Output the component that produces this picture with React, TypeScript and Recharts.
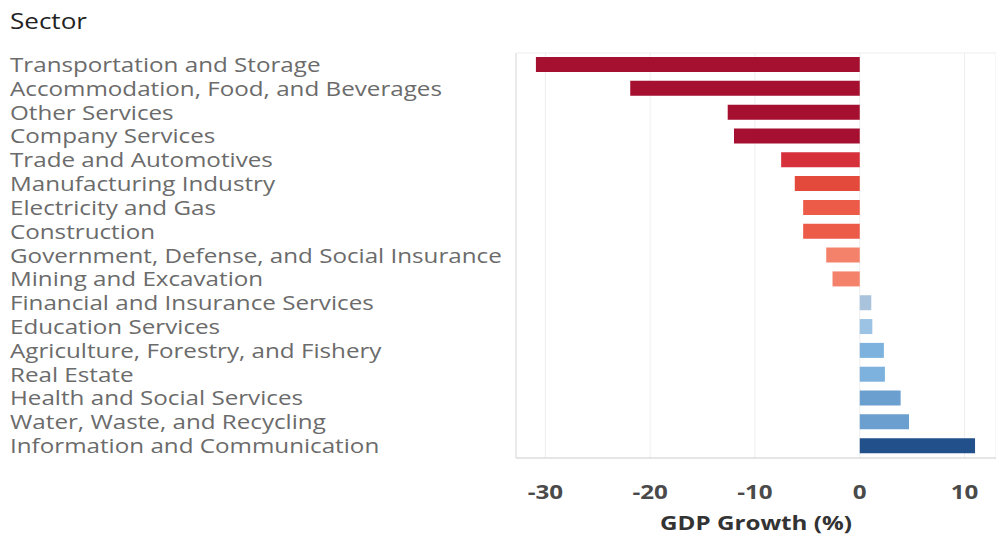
import { Bar, BarChart, CartesianGrid, Cell, XAxis, YAxis } from 'recharts';

const sectors = [
  'Transportation and Storage',
  'Accommodation, Food, and Beverages',
  'Other Services',
  'Company Services',
  'Trade and Automotives',
  'Manufacturing Industry',
  'Electricity and Gas',
  'Construction',
  'Government, Defense, and Social Insurance',
  'Mining and Excavation',
  'Financial and Insurance Services',
  'Education Services',
  'Agriculture, Forestry, and Fishery',
  'Real Estate',
  'Health and Social Services',
  'Water, Waste, and Recycling',
  'Information and Communication',
];

const growth = [-30.9, -21.9, -12.6, -12.0, -7.5, -6.2, -5.4, -5.4, -3.2, -2.6, 1.1, 1.2, 2.3, 2.4, 3.9, 4.7, 11.0];

const barColors = [
  '#a50f30', '#a50f30', '#a50f30', '#a50f30',
  '#d6303a', '#e34a3b', '#ec5a48', '#ec5a48',
  '#f4826a', '#f4826a',
  '#a9c3dc', '#9cc3e4', '#7cb2dd', '#7cb2dd',
  '#6a9fd0', '#6a9fd0', '#22508a',
];

const xTicks = [-30, -20, -10, 0, 10];

const data = sectors.map((sector, i) => ({ sector, value: growth[i] }));

const font = '"Open Sans", "Noto Sans", sans-serif';
// the reference text looks stretched sideways
const stretch = 1.21;

function SectorTick({ y, payload }: any) {
  return (
    <text
      transform={`translate(10 ${y}) scale(${stretch} 1)`}
      dy="0.35em"
      textAnchor="start"
      fontSize={20}
      fill="#6b6b6b"
      fontFamily={font}
    >
      {payload.value}
    </text>
  );
}

function GrowthTick({ x, y, payload }: any) {
  return (
    <text
      transform={`translate(${x} ${y + 39}) scale(${stretch} 1)`}
      textAnchor="middle"
      fontSize={20}
      fontWeight={700}
      fill="#4a4a4a"
      fontFamily={font}
    >
      {payload.value}
    </text>
  );
}

function AxisTitle({ viewBox }: any) {
  const cx = viewBox.x + viewBox.width / 2;
  return (
    <text
      transform={`translate(${cx} 530) scale(${stretch} 1)`}
      textAnchor="middle"
      fontSize={20}
      fontWeight={700}
      fill="#333"
      fontFamily={font}
    >
      GDP Growth (%)
    </text>
  );
}

export default function App() {
  return (
    <div style={{ position: 'absolute', left: 0, top: 0, width: 996, height: 537, background: '#fff' }}>
      <div
        style={{
          position: 'absolute',
          left: 10,
          top: 7,
          fontFamily: font,
          fontSize: 21,
          color: '#222',
          transform: 'scaleX(1.24)',
          transformOrigin: 'left top',
        }}
      >
        Sector
      </div>
      <BarChart
        width={996}
        height={537}
        data={data}
        layout="vertical"
        margin={{ top: 53, right: 0, bottom: 0, left: 0 }}
        barSize={15}
      >
        <CartesianGrid stroke="#eeeeee" horizontalPoints={[53]} />
        <XAxis
          type="number"
          domain={[-32.8, 13]}
          ticks={xTicks}
          height={79}
          tickSize={0}
          tickLine={false}
          axisLine={{ stroke: '#cccccc' }}
          tick={<GrowthTick />}
          label={<AxisTitle />}
        />
        <YAxis
          type="category"
          dataKey="sector"
          width={516}
          tickLine={false}
          axisLine={{ stroke: '#dddddd' }}
          interval={0}
          tick={<SectorTick />}
        />
        <Bar dataKey="value" isAnimationActive={false}>
          {data.map((d, i) => (
            <Cell key={d.sector} fill={barColors[i]} />
          ))}
        </Bar>
      </BarChart>
    </div>
  );
}
